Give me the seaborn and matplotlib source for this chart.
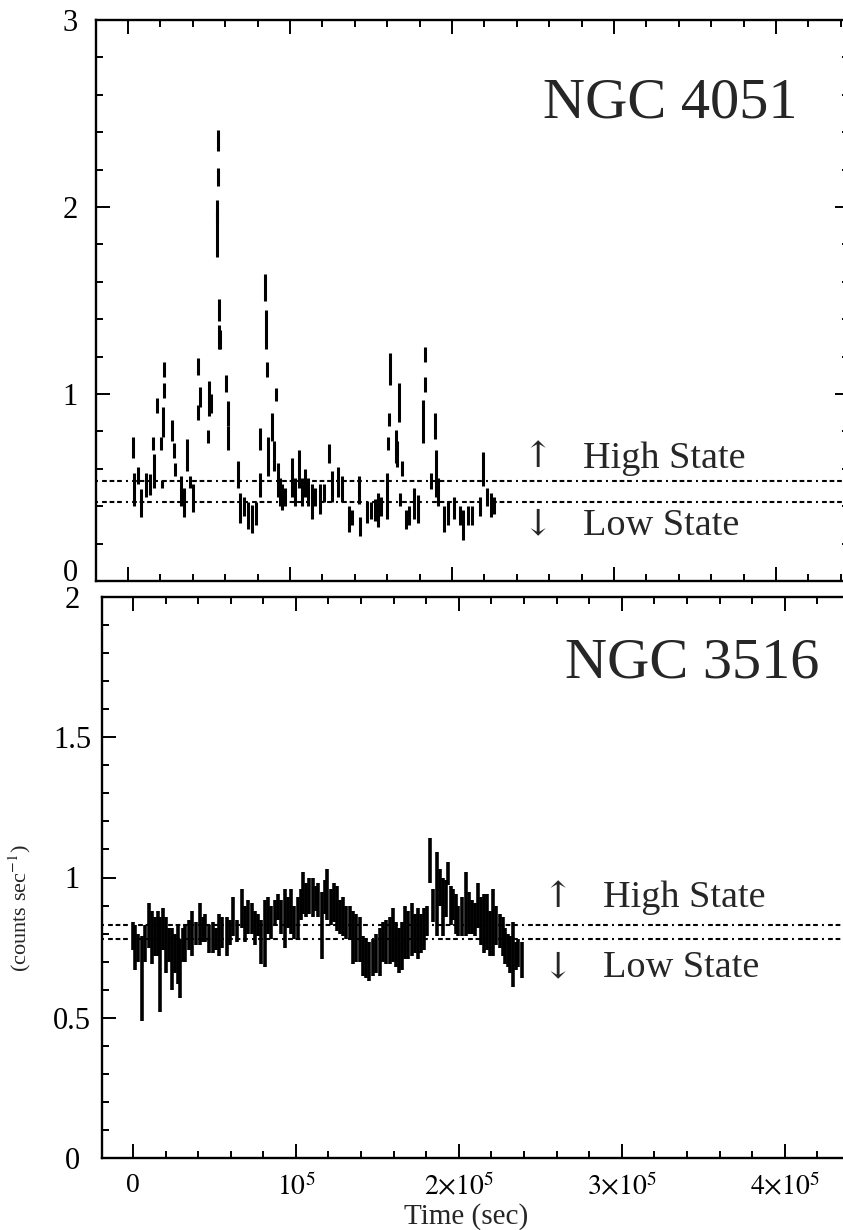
import matplotlib
matplotlib.use("Agg")
import matplotlib.pyplot as plt
import numpy as np
import pandas as pd
import seaborn as sns
from matplotlib.ticker import MultipleLocator, FixedLocator, FixedFormatter

# ---------------- data ----------------
# NGC 4051 light curve: time (ks), count rate (counts/s), 1-sigma error
ngc4051_time = [3.1, 3.5, 6.2, 8.0, 11.1, 13.6, 15.4, 16.0, 17.9, 20.4, 21.0, 21.9, 22.2, 22.5,
                27.2, 28.4, 29.0, 32.7, 34.6, 36.4, 38.3, 40.1, 43.2, 43.5, 44.4, 49.4, 50.0, 51.2,
                54.9, 55.2, 55.4, 55.6, 55.9, 56.2, 56.8, 60.5, 61.5, 61.9, 67.9, 69.1, 71.6, 74.1,
                76.5, 79.0, 81.5, 81.6, 84.6, 84.9, 85.8, 86.4, 88.9, 90.1, 91.4, 92.6, 93.8, 95.1,
                96.9, 101.2, 103.1, 105.6, 107.4, 109.3, 111.1, 113.6, 115.4, 118.5, 121.0, 124.1,
                125.9, 129.6, 132.1, 136.4, 138.3, 142.6, 143.2, 147.5, 150.0, 152.5, 154.3, 156.2,
                159.9, 160.5, 161.1, 161.7, 165.4, 166.0, 167.3, 167.6, 169.1, 171.6, 173.5, 176.5,
                179.0, 182.1, 183.3, 183.6, 187.0, 189.5, 190.1, 191.4, 195.1, 197.5, 201.2, 204.9,
                206.8, 209.9, 212.3, 217.3, 219.1, 221.6, 224.1, 225.9]
ngc4051_rate = [0.715, 0.49, 0.565, 0.415, 0.515, 0.515, 0.735, 0.59, 0.94, 0.735, 0.52, 0.85, 1.02, 1.13,
                0.805, 0.70, 0.595, 0.48, 0.42, 0.675, 0.53, 0.445, 1.145, 0.90, 0.985, 0.775, 0.975, 0.95,
                1.855, 1.98, 2.16, 2.355, 1.45, 1.305, 1.29, 1.055, 0.895, 0.765, 0.57, 0.39, 0.40, 0.35,
                0.33, 0.36, 0.76, 0.515, 1.57, 1.345, 1.13, 0.665, 0.825, 0.67, 0.995, 0.54, 0.475, 0.45,
                0.45, 0.555, 0.475, 0.60, 0.475, 0.525, 0.475, 0.425, 0.45, 0.44, 0.47, 0.68,
                0.505, 0.53, 0.49, 0.33, 0.34, 0.485, 0.29, 0.37, 0.375, 0.38, 0.38, 0.40,
                0.455, 0.735, 0.865, 1.135, 0.72, 0.68, 0.955, 0.435, 0.60, 0.33, 0.35, 0.415,
                0.385, 0.855, 1.05, 1.21, 0.535, 0.83, 0.575, 0.475, 0.33, 0.36, 0.39, 0.35,
                0.30, 0.35, 0.35, 0.40, 0.60, 0.45, 0.405, 0.405]
ngc4051_err = [0.055, 0.09, 0.045, 0.075, 0.065, 0.055, 0.035, 0.09, 0.04, 0.035, 0.02, 0.08, 0.04, 0.04,
               0.055, 0.04, 0.035, 0.08, 0.08, 0.085, 0.03, 0.075, 0.045, 0.04, 0.055, 0.035, 0.095, 0.05,
               0.125, 0.06, 0.05, 0.055, 0.06, 0.065, 0.05, 0.045, 0.065, 0.065, 0.07, 0.08, 0.05, 0.07,
               0.075, 0.06, 0.06, 0.065, 0.07, 0.105, 0.04, 0.105, 0.075, 0.08, 0.035, 0.09, 0.075, 0.07,
               0.05, 0.105, 0.075, 0.10, 0.075, 0.075, 0.075, 0.095, 0.05, 0.08, 0.05, 0.05,
               0.085, 0.08, 0.07, 0.07, 0.04, 0.075, 0.05, 0.06, 0.045, 0.06, 0.09, 0.05,
               0.125, 0.035, 0.035, 0.085, 0.09, 0.07, 0.105, 0.035, 0.04, 0.05, 0.05, 0.085,
               0.075, 0.115, 0.04, 0.04, 0.045, 0.07, 0.125, 0.075, 0.07, 0.06, 0.06, 0.05,
               0.08, 0.05, 0.05, 0.05, 0.09, 0.05, 0.065, 0.045]

# NGC 3516 light curve: time (ks), count rate (counts/s), 1-sigma error
ngc3516_time = [0.0, 1.2, 3.1, 5.5, 7.4, 9.8, 11.7, 13.5, 15.3, 16.6, 18.4, 20.2, 22.1, 23.9, 25.8,
                27.6, 28.8, 30.7, 31.9, 34.4, 36.2, 38.7, 41.1, 42.9, 44.2, 46.6, 49.1, 50.9, 52.8,
                54.6, 57.7, 59.5, 61.3, 63.8, 66.9, 68.7, 70.6, 73.0, 74.8, 76.7, 78.5, 81.0, 82.8,
                84.7, 87.1, 89.0, 90.8, 93.3, 95.1, 96.9, 98.8, 101.2, 103.1, 104.3, 106.1, 108.0,
                110.4, 112.3, 113.5, 116.0, 117.8, 119.0, 121.5, 123.3, 125.2, 127.0, 128.8, 130.7,
                133.1, 134.9, 136.8, 139.3, 141.1, 142.9, 144.8, 147.2, 149.1, 151.5, 153.4, 155.2,
                157.7, 159.5, 161.3, 163.2, 165.0, 166.9, 168.7, 171.2, 173.0, 174.8, 176.7, 178.5,
                180.4, 182.2, 184.0, 186.5, 188.3, 190.2, 192.0, 193.3, 195.1, 196.3, 198.2, 199.4,
                201.8, 204.3, 206.1, 208.0, 209.8, 211.7, 213.5, 215.3, 217.2, 219.0, 220.9, 222.7,
                225.2, 227.0, 228.2, 230.1, 231.3, 233.1, 235.0, 236.2, 238.7]
ngc3516_rate = [0.79, 0.75, 0.75, 0.64, 0.765, 0.83, 0.785, 0.79, 0.80, 0.69, 0.815, 0.76, 0.76, 0.71, 0.73,
                0.725, 0.675, 0.76, 0.765, 0.795, 0.80, 0.80, 0.835, 0.815, 0.82, 0.78, 0.785, 0.78, 0.795,
                0.805, 0.79, 0.805, 0.86, 0.81, 0.89, 0.835, 0.86, 0.855, 0.82, 0.83, 0.77, 0.80, 0.865,
                0.84, 0.875, 0.895, 0.86, 0.855, 0.875, 0.88, 0.84, 0.855, 0.905, 0.945, 0.92, 0.935,
                0.93, 0.925, 0.92, 0.83, 0.93, 0.94, 0.895, 0.91, 0.89, 0.86, 0.86, 0.84,
                0.84, 0.785, 0.785, 0.78, 0.72, 0.71, 0.70, 0.715, 0.73, 0.735, 0.77, 0.77,
                0.775, 0.795, 0.76, 0.74, 0.755, 0.805, 0.795, 0.815, 0.80, 0.80, 0.80, 0.815,
                0.845, 1.06, 0.90, 0.94, 0.965, 0.895, 0.925, 1.015, 0.90, 0.905, 0.87, 0.845,
                0.86, 0.905, 0.875, 0.86, 0.85, 0.90, 0.845, 0.835, 0.84, 0.80, 0.84, 0.83,
                0.81, 0.79, 0.755, 0.74, 0.725, 0.725, 0.72, 0.73, 0.705]
ngc3516_err = [0.05, 0.08, 0.05, 0.15, 0.065, 0.08, 0.095, 0.07, 0.08, 0.17, 0.075, 0.10, 0.06, 0.11, 0.07,
               0.105, 0.105, 0.06, 0.065, 0.055, 0.08, 0.04, 0.075, 0.045, 0.05, 0.05, 0.055, 0.04, 0.075,
               0.055, 0.07, 0.045, 0.07, 0.04, 0.07, 0.065, 0.06, 0.055, 0.06, 0.04, 0.08, 0.12, 0.065,
               0.06, 0.045, 0.045, 0.06, 0.105, 0.055, 0.08, 0.06, 0.075, 0.055, 0.075, 0.06, 0.065,
               0.07, 0.045, 0.06, 0.12, 0.06, 0.09, 0.065, 0.07, 0.08, 0.06, 0.07, 0.06,
               0.06, 0.095, 0.085, 0.08, 0.07, 0.07, 0.07, 0.065, 0.07, 0.085, 0.07, 0.08,
               0.085, 0.095, 0.08, 0.08, 0.085, 0.095, 0.085, 0.095, 0.07, 0.09, 0.07, 0.075,
               0.055, 0.08, 0.06, 0.15, 0.065, 0.105, 0.065, 0.04, 0.07, 0.055, 0.07, 0.055,
               0.07, 0.115, 0.075, 0.06, 0.06, 0.08, 0.085, 0.105, 0.10, 0.08, 0.12, 0.07,
               0.06, 0.07, 0.065, 0.06, 0.065, 0.115, 0.05, 0.05, 0.065]

# count-rate thresholds separating high and low states
ngc4051_states = [0.535, 0.42]
ngc3516_states = [0.83, 0.78]

x_ticks = [0, 1e5, 2e5, 3e5, 4e5]
x_ticklabels = ["0", r"$10^5$", r"$2{\times}10^5$", r"$3{\times}10^5$", r"$4{\times}10^5$"]
top_yticks = [0, 1, 2, 3]
top_yticklabels = ["0", "1", "2", "3"]
bottom_yticks = [0, 0.5, 1, 1.5, 2]
bottom_yticklabels = ["0", "0.5", "1", "1.5", "2"]

# ---------------- style ----------------
sns.set_theme(style="ticks")
plt.rcParams["font.family"] = ["Liberation Serif", "DejaVu Serif"]
plt.rcParams["mathtext.fontset"] = "stix"
plt.rcParams["lines.scale_dashes"] = False

W, H = 843, 1230
fig = plt.figure(figsize=(W / 100, H / 100), dpi=100)
fig.patch.set_facecolor("white")


def box(x0, x1, ytop, ybot):
    return [x0 / W, 1 - ybot / H, (x1 - x0) / W, (ybot - ytop) / H]


ax1 = fig.add_axes(box(96, 849, 20, 581))
ax2 = fig.add_axes(box(102, 858, 597, 1158))

state_dash = (0, (1.4, 3.0, 3.4, 2.0, 3.4, 2.0, 3.4, 3.0))


def draw_curve(ax, t, r, e, states, bar_w):
    df = pd.DataFrame({"time": np.asarray(t) * 1e3, "rate": r, "err": e})
    ax.errorbar(df["time"], df["rate"], yerr=df["err"], fmt="none",
                ecolor="black", elinewidth=bar_w, capsize=0, zorder=3)
    for s in states:
        ax.axhline(s, color="black", lw=1.5, linestyle=state_dash, zorder=2)


draw_curve(ax1, ngc4051_time, ngc4051_rate, ngc4051_err, ngc4051_states, 2.2)
draw_curve(ax2, ngc3516_time, ngc3516_rate, ngc3516_err, ngc3516_states, 2.6)

ax1.set_xlim(-1.975e4, 4.45e5)
ax1.set_ylim(0, 3)
ax2.set_xlim(-1.9e4, 4.45e5)
ax2.set_ylim(0, 2)

for ax in (ax1, ax2):
    ax.set_facecolor("white")
    ax.xaxis.set_major_locator(FixedLocator(x_ticks))
    ax.xaxis.set_minor_locator(MultipleLocator(2e4))
    for sp in ax.spines.values():
        sp.set_linewidth(1.7)
        sp.set_color("black")
    ax.tick_params(which="both", direction="in", top=True, right=True,
                   color="black", width=1.4, labelsize=22, labelcolor="black")
    ax.tick_params(which="major", length=10)
    ax.tick_params(which="minor", length=5)
    ax.set_xlabel("")
    ax.set_ylabel("")

ax1.yaxis.set_major_locator(FixedLocator(top_yticks))
ax1.yaxis.set_major_formatter(FixedFormatter(top_yticklabels))
ax1.yaxis.set_minor_locator(MultipleLocator(0.2))
ax1.tick_params(axis="y", pad=18.5)
ax1.tick_params(axis="x", labelbottom=False)

ax2.yaxis.set_major_locator(FixedLocator(bottom_yticks))
ax2.yaxis.set_major_formatter(FixedFormatter(bottom_yticklabels))
ax2.yaxis.set_minor_locator(MultipleLocator(0.1))
ax2.tick_params(axis="y", pad=21.5)
ax2.tick_params(axis="x", pad=11, labelsize=20)
ax2.xaxis.set_major_formatter(FixedFormatter(x_ticklabels))

for ax in (ax1, ax2):
    for lab in ax.get_yticklabels():
        lab.set_horizontalalignment("center")
# the zero of the upper panel rests on the panel boundary
ax1.get_yticklabels()[0].set_verticalalignment("baseline")


def ftext(px, py, s, **kw):
    fig.text(px / W, 1 - py / H, s, **kw)


# object names
ftext(543, 118, "NGC 4051", fontsize=42, va="baseline", ha="left")
ftext(565, 677, "NGC 3516", fontsize=42, va="baseline", ha="left")

# state annotations
arrow_font = ["DejaVu Serif"]
ftext(537, 457, "\u2191", fontsize=26, va="center", ha="center", family=arrow_font)
ftext(583, 468, "High State", fontsize=27.5, va="baseline", ha="left")
ftext(537, 524, "\u2193", fontsize=26, va="center", ha="center", family=arrow_font)
ftext(583, 535, "Low State", fontsize=27.5, va="baseline", ha="left")

ftext(557, 897, "\u2191", fontsize=26, va="center", ha="center", family=arrow_font)
ftext(603, 907, "High State", fontsize=27.5, va="baseline", ha="left")
ftext(557, 967, "\u2193", fontsize=26, va="center", ha="center", family=arrow_font)
ftext(603, 977, "Low State", fontsize=27.5, va="baseline", ha="left")

# axis titles
ftext(466, 1224, "Time (sec)", fontsize=21, va="baseline", ha="center")
ftext(20, 908, r"(counts sec$^{-1}$)", fontsize=16, rotation=90, va="center", ha="center")

fig.savefig("out.png", dpi=100, facecolor="white")
